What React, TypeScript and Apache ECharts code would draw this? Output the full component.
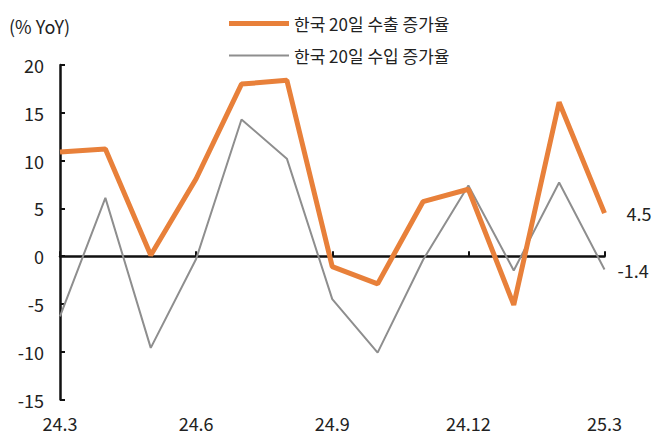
import { useEffect, useRef } from "react";
import * as echarts from "echarts";

const months = [
  "24.3", "24.4", "24.5", "24.6", "24.7", "24.8", "24.9",
  "24.10", "24.11", "24.12", "25.1", "25.2", "25.3",
];
const exportGrowth = [10.9, 11.2, 0.1, 8.1, 18.0, 18.4, -1.1, -2.9, 5.7, 7.0, -5.1, 16.1, 4.5];
const importGrowth = [-6.3, 6.1, -9.6, -0.3, 14.3, 10.2, -4.5, -10.1, -0.4, 7.4, -1.5, 7.7, -1.4];
const seriesNames = ["한국 20일 수출 증가율", "한국 20일 수입 증가율"];

const FONT = "'Noto Sans CJK KR', 'Noto Sans', sans-serif";
const TEXT = "#222";
const ORANGE = "#E8803A";
const GRAY = "#8E8E8E";

export default function App() {
  const ref = useRef<HTMLDivElement | null>(null);

  useEffect(() => {
    const el = ref.current;
    if (!el) {
      return;
    }
    const chart = echarts.init(el, null, { renderer: "svg" });

    chart.setOption({
      animation: false,
      textStyle: { fontFamily: FONT },
      grid: { left: 60, right: 59.5, top: 65, bottom: 42.5 },
      graphic: [
        {
          type: "text",
          left: 9,
          top: 17,
          style: { text: "(% YoY)", fontSize: 18, fill: TEXT, fontFamily: FONT },
        },
      ],
      legend: {
        orient: "vertical",
        left: 224,
        top: 10,
        itemWidth: 60,
        itemHeight: 16,
        itemGap: 15,
        symbolKeepAspect: true,
        textStyle: { fontSize: 17, color: TEXT, fontFamily: FONT },
        data: [
          { name: seriesNames[0], icon: "path://M0,0H60V5H0Z", itemStyle: { color: ORANGE } },
          { name: seriesNames[1], icon: "path://M0,0H60V2H0Z", itemStyle: { color: GRAY } },
        ],
      },
      xAxis: [
        {
          type: "category",
          data: months,
          boundaryGap: false,
          position: "bottom",
          axisLine: { show: false, onZero: false },
          axisTick: { show: false },
          axisLabel: { interval: 2, fontSize: 18, color: TEXT, margin: 14, fontFamily: FONT },
        },
        {
          type: "category",
          data: months,
          boundaryGap: false,
          position: "top",
          axisLine: { show: true, onZero: true, lineStyle: { color: "#111", width: 2.5 } },
          axisTick: { show: true, interval: 2, length: 5, lineStyle: { color: "#111", width: 2 } },
          axisLabel: { show: false },
        },
      ],
      yAxis: {
        type: "value",
        min: -15,
        max: 20,
        interval: 5,
        splitLine: { show: false },
        axisLine: { show: true, lineStyle: { color: "#111", width: 2.5 } },
        axisTick: { show: true, inside: true, length: 5, lineStyle: { color: "#111", width: 2 } },
        axisLabel: { fontSize: 18, color: TEXT, margin: 16, fontFamily: FONT },
      },
      series: [
        {
          name: seriesNames[0],
          type: "line",
          data: exportGrowth,
          symbol: "none",
          z: 3,
          lineStyle: { color: ORANGE, width: 5 },
          itemStyle: { color: ORANGE },
          endLabel: {
            show: true,
            formatter: (p: any) => String(p.value),
            distance: 22,
            fontSize: 18,
            color: TEXT,
            fontFamily: FONT,
          },
        },
        {
          name: seriesNames[1],
          type: "line",
          data: importGrowth,
          symbol: "none",
          z: 2,
          lineStyle: { color: GRAY, width: 2 },
          itemStyle: { color: GRAY },
          endLabel: {
            show: true,
            formatter: (p: any) => String(p.value),
            distance: 13,
            fontSize: 18,
            color: TEXT,
            fontFamily: FONT,
          },
        },
      ],
    });

    return () => {
      chart.dispose();
    };
  }, []);

  return (
    <div
      ref={ref}
      style={{ position: "absolute", left: 0, top: 0, width: 664, height: 442 }}
    />
  );
}
